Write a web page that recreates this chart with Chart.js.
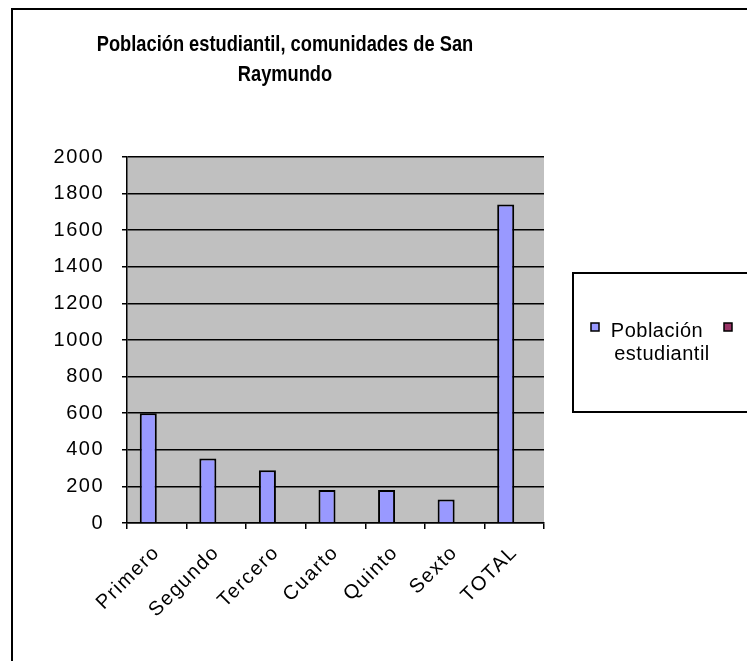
<!DOCTYPE html>
<html>
<head>
<meta charset="utf-8">
<script src="https://cdn.jsdelivr.net/npm/chart.js@4"></script>
<style>
  html, body { margin: 0; padding: 0; background: #fff; }
  canvas { display: block; }
</style>
</head>
<body>
<canvas id="c" width="747" height="661"></canvas>
<script>
const titleLines = ['Población estudiantil, comunidades de San', 'Raymundo'];
const categories = ['Primero', 'Segundo', 'Tercero', 'Cuarto', 'Quinto', 'Sexto', 'TOTAL'];
const seriesName = 'Población estudiantil';
const seriesValues = [600, 352, 288, 180, 180, 128, 1740];
const series2Name = '';
const series2Values = [0, 0, 0, 0, 0, 0, 0];
const yTicks = [0, 200, 400, 600, 800, 1000, 1200, 1400, 1600, 1800, 2000];

const FONT = "'Liberation Sans', Arial, sans-serif";
const LS = '1.5px';

const spacingPlugin = {
  id: 'spacing',
  beforeUpdate(chart) { chart.ctx.letterSpacing = LS; },
  beforeLayout(chart) { chart.ctx.letterSpacing = LS; },
  beforeDraw(chart) { chart.ctx.letterSpacing = LS; }
};

const decorPlugin = {
  id: 'decor',
  beforeDraw(chart) {
    const ctx = chart.ctx;
    ctx.save();
    ctx.fillStyle = '#fff';
    ctx.fillRect(0, 0, chart.width, chart.height);
    const a = chart.chartArea;
    ctx.fillStyle = '#C0C0C0';
    ctx.fillRect(a.left, a.top, a.right - a.left, a.bottom - a.top);
    ctx.restore();
  },
  afterDraw(chart) {
    const ctx = chart.ctx;
    ctx.save();
    // outer frame
    ctx.strokeStyle = '#000';
    ctx.lineWidth = 2;
    ctx.strokeRect(12, 9, 760, 700);
    // title (condensed bold)
    ctx.letterSpacing = '0px';
    ctx.fillStyle = '#000';
    ctx.font = "bold 22px " + FONT;
    ctx.textAlign = 'center';
    ctx.textBaseline = 'middle';
    titleLines.forEach((t, i) => {
      ctx.save();
      ctx.translate(285, 45 + i * 30);
      ctx.scale(0.83, 1);
      ctx.fillText(t, 0, 0);
      ctx.restore();
    });
    // legend box
    ctx.lineWidth = 2;
    ctx.strokeRect(573, 273, 200, 139);
    const ds = chart.data.datasets;
    ctx.lineWidth = 1.5;
    ctx.fillStyle = ds[0].backgroundColor;
    ctx.fillRect(591, 323, 8, 8);
    ctx.strokeRect(591, 323, 8, 8);
    ctx.fillStyle = ds[1].backgroundColor;
    ctx.fillRect(724, 323, 8, 8);
    ctx.strokeRect(724, 323, 8, 8);
    ctx.fillStyle = '#000';
    ctx.font = "20px " + FONT;
    ctx.letterSpacing = '0.5px';
    ctx.textAlign = 'center';
    const words = ds[0].label.split(' ');
    ctx.fillText(words[0], 657, 331);
    ctx.fillText(words.slice(1).join(' '), 662, 354);
    ctx.restore();
  }
};

new Chart(document.getElementById('c'), {
  type: 'bar',
  data: {
    labels: categories,
    datasets: [
      { label: seriesName, data: seriesValues, backgroundColor: '#9999FF', borderColor: '#000', borderWidth: 2 },
      { label: series2Name, data: series2Values, backgroundColor: '#993366', borderColor: '#000', borderWidth: 1 }
    ]
  },
  options: {
    responsive: false,
    animation: false,
    devicePixelRatio: 1,
    layout: { padding: { top: 157, right: 203, left: 0, bottom: 0 } },
    plugins: { legend: { display: false }, title: { display: false }, tooltip: { enabled: false } },
    datasets: { bar: { categoryPercentage: 2 / 3.5, barPercentage: 1 } },
    scales: {
      x: {
        grid: { offset: true, drawOnChartArea: false, color: '#000', lineWidth: 1.5, tickLength: 6 },
        border: { color: '#000', width: 1.5 },
        ticks: { color: '#000', font: { family: FONT, size: 20 }, maxRotation: 45, minRotation: 45, padding: 12 },
        afterFit(s) { s.height = 138; }
      },
      y: {
        min: 0, max: 2000,
        grid: { color: '#000', lineWidth: 1.5, tickLength: 5 },
        border: { color: '#000', width: 1.5 },
        ticks: { color: '#000', font: { family: FONT, size: 20 }, stepSize: 200, padding: 18,
          callback: (v) => yTicks.includes(v) ? String(v) : '' },
        afterFit(s) { s.width = 127; }
      }
    }
  },
  plugins: [spacingPlugin, decorPlugin]
});
</script>
</body>
</html>
